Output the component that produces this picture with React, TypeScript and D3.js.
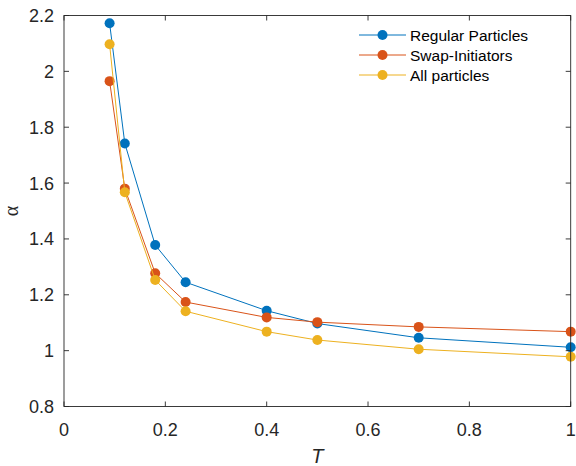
import React from "react";
import * as d3 from "d3";

const temps = [0.09, 0.12, 0.18, 0.24, 0.4, 0.5, 0.7, 1.0];
const regular = [2.172, 1.742, 1.378, 1.245, 1.143, 1.097, 1.046, 1.012];
const swapInit = [1.965, 1.58, 1.277, 1.174, 1.119, 1.102, 1.085, 1.068];
const allParticles = [2.097, 1.567, 1.253, 1.141, 1.068, 1.038, 1.005, 0.978];
const seriesNames = ["Regular Particles", "Swap-Initiators", "All particles"];
const seriesColors = ["#0072BD", "#D95319", "#EDB120"];
const xTicks = [0, 0.2, 0.4, 0.6, 0.8, 1];
const yTicks = [0.8, 1, 1.2, 1.4, 1.6, 1.8, 2, 2.2];

const W = 576;
const H = 466;
const L = 64, R = 570.7, T = 15.5, B = 406.5;

export default function App() {
  const x = d3.scaleLinear().domain([0, 1]).range([L, R]);
  const y = d3.scaleLinear().domain([0.8, 2.2]).range([B, T]);
  const series = [regular, swapInit, allParticles];
  const line = d3
    .line<[number, number]>()
    .x((d) => x(d[0]))
    .y((d) => y(d[1]));
  const axisColor = "#262626";
  const tickLen = 5;
  const font = "'Liberation Sans', Arial, Helvetica, sans-serif";
  const legendRows = [35, 55, 75];

  return (
    <svg
      width={W}
      height={H}
      style={{ position: "absolute", left: 0, top: 0, background: "#fff" }}
      fontFamily={font}
    >
      <rect x={0} y={0} width={W} height={H} fill="#fff" />
      {/* data */}
      {series.map((s, i) => {
        const pts = temps.map((t, j) => [t, s[j]] as [number, number]);
        return (
          <g key={i}>
            <path d={line(pts) || ""} fill="none" stroke={seriesColors[i]} strokeWidth={1} />
            {pts.map((p, j) => (
              <circle key={j} cx={x(p[0])} cy={y(p[1])} r={5} fill={seriesColors[i]} />
            ))}
          </g>
        );
      })}
      {/* box */}
      <rect x={L} y={T} width={R - L} height={B - T} fill="none" stroke={axisColor} strokeWidth={0.9} />
      {/* x ticks */}
      {xTicks.map((t) => (
        <g key={"x" + t}>
          <line x1={x(t)} x2={x(t)} y1={B} y2={B - tickLen} stroke={axisColor} strokeWidth={0.9} />
          <line x1={x(t)} x2={x(t)} y1={T} y2={T + tickLen} stroke={axisColor} strokeWidth={0.9} />
          <text x={x(t)} y={435.5} textAnchor="middle" fontSize={18} fill={axisColor}>
            {String(t)}
          </text>
        </g>
      ))}
      {/* y ticks */}
      {yTicks.map((t) => (
        <g key={"y" + t}>
          <line x1={L} x2={L + tickLen} y1={y(t)} y2={y(t)} stroke={axisColor} strokeWidth={0.9} />
          <line x1={R} x2={R - tickLen} y1={y(t)} y2={y(t)} stroke={axisColor} strokeWidth={0.9} />
          <text x={L - 10} y={y(t) + 6.5} textAnchor="end" fontSize={18} fill={axisColor}>
            {String(t)}
          </text>
        </g>
      ))}
      {/* axis labels */}
      <text x={(L + R) / 2} y={462.5} textAnchor="middle" fontSize={20} fontStyle="italic" fill={axisColor}>
        T
      </text>
      <text
        transform={`translate(18, ${(T + B) / 2}) rotate(-90)`}
        textAnchor="middle"
        fontSize={20}
        fill={axisColor}
        fontFamily="'Liberation Serif', 'Times New Roman', serif"
      >
        α
      </text>
      {/* legend */}
      {seriesNames.map((n, i) => (
        <g key={n}>
          <line x1={359} x2={406} y1={legendRows[i]} y2={legendRows[i]} stroke={seriesColors[i]} strokeWidth={1} />
          <circle cx={382.5} cy={legendRows[i]} r={5} fill={seriesColors[i]} />
          <text x={410} y={legendRows[i] + 5.5} fontSize={15.5} fill="#000">
            {n}
          </text>
        </g>
      ))}
    </svg>
  );
}
